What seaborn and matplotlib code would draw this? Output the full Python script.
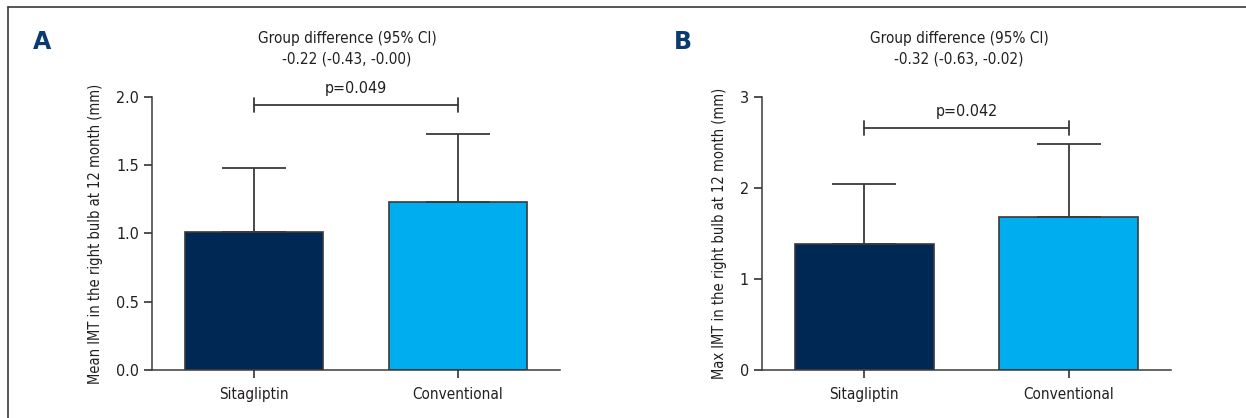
import matplotlib
matplotlib.use("Agg")
import matplotlib.pyplot as plt
import matplotlib.lines as mlines
import seaborn as sns
import pandas as pd

# --- Data ---
groups = ["Sitagliptin", "Conventional"]
colors = ["#002855", "#00AEEF"]

mean_imt = [1.01, 1.23]
mean_imt_sd = [0.47, 0.50]
max_imt = [1.39, 1.68]
max_imt_sd = [0.65, 0.80]

diff_text = ["Group difference (95% CI)\n-0.22 (-0.43, -0.00)",
             "Group difference (95% CI)\n-0.32 (-0.63, -0.02)"]
p_text = ["p=0.049", "p=0.042"]
bracket_y = [1.94, 2.66]
bracket_tick = [0.05, 0.077]
ylabels = ["Mean IMT in the right bulb at 12 month (mm)",
           "Max IMT in the right bulb at 12 month (mm)"]
yticks = [[0.0, 0.5, 1.0, 1.5, 2.0], [0, 1, 2, 3]]
yticklabels = [["0.0", "0.5", "1.0", "1.5", "2.0"], ["0", "1", "2", "3"]]
panel_letters = ["A", "B"]

sns.set_style("ticks")
plt.rcParams["font.family"] = ["DejaVu Sans"]
plt.rcParams["font.stretch"] = "condensed"
TEXT = "#231f20"

fig = plt.figure(figsize=(12.46, 4.18), dpi=100)
ax_pos = [[0.122, 0.1148, 0.3274, 0.6532], [0.6116, 0.1148, 0.3280, 0.6532]]


def draw_panel(ax, means, sds, k):
    df = pd.DataFrame({"group": groups, "value": means})
    sns.barplot(data=df, x="group", y="value", hue="group", palette=colors,
                saturation=1, width=0.68, edgecolor="#3a3a3a", linewidth=1.2,
                legend=False, errorbar=None, ax=ax)
    ax.errorbar(range(len(groups)), means, yerr=[[0] * len(sds), sds],
                fmt="none", ecolor="#3a3a3a", elinewidth=1.3, capsize=23,
                capthick=1.3, zorder=1)
    ax.set_xlim(-0.5, 1.5)
    ax.set_ylim(yticks[k][0], yticks[k][-1])
    ax.set_yticks(yticks[k])
    ax.set_yticklabels(yticklabels[k])
    ax.set_xlabel("")
    ax.set_ylabel(ylabels[k], fontsize=10.5, color=TEXT, labelpad=9)
    ax.tick_params(axis="both", labelsize=11.5, colors=TEXT, length=6,
                   width=1.1, direction="out")
    ax.tick_params(axis="x", labelsize=11, pad=6)
    for s in ["top", "right"]:
        ax.spines[s].set_visible(False)
    for s in ["left", "bottom"]:
        ax.spines[s].set_linewidth(1.1)
        ax.spines[s].set_color("#3a3a3a")

    # significance bracket
    y = bracket_y[k]
    t = bracket_tick[k]
    ax.plot([0, 1], [y, y], color="#3a3a3a", lw=1.3, clip_on=False)
    ax.plot([0, 0], [y - t, y + t], color="#3a3a3a", lw=1.3, clip_on=False)
    ax.plot([1, 1], [y - t, y + t], color="#3a3a3a", lw=1.3, clip_on=False)
    ax.text(0.5, y + t * 1.3, p_text[k], ha="center", va="bottom",
            fontsize=11.5, color=TEXT)


axes = []
for k, (means, sds) in enumerate([(mean_imt, mean_imt_sd), (max_imt, max_imt_sd)]):
    ax = fig.add_axes(ax_pos[k])
    draw_panel(ax, means, sds, k)
    axes.append(ax)

# header texts
fig.text(347 / 1246, 1 - 49 / 418, diff_text[0], ha="center", va="center",
         fontsize=11, color=TEXT, linespacing=1.45)
fig.text(959 / 1246, 1 - 49 / 418, diff_text[1], ha="center", va="center",
         fontsize=11, color=TEXT, linespacing=1.45)
fig.text(42 / 1246, 1 - 42 / 418, panel_letters[0], ha="center", va="center",
         fontsize=17, fontweight="bold", color="#0b3a6e", fontstretch="normal")
fig.text(683 / 1246, 1 - 42 / 418, panel_letters[1], ha="center", va="center",
         fontsize=17, fontweight="bold", color="#0b3a6e", fontstretch="normal")

# outer frame (top and left edges visible)
fig.add_artist(mlines.Line2D([8 / 1246, 1.0], [1 - 7 / 418, 1 - 7 / 418],
                             transform=fig.transFigure, color="#3a3a3a", lw=1.2))
fig.add_artist(mlines.Line2D([8 / 1246, 8 / 1246], [0.0, 1 - 7 / 418],
                             transform=fig.transFigure, color="#3a3a3a", lw=1.2))

fig.savefig("out.png", dpi=100, facecolor="white")
